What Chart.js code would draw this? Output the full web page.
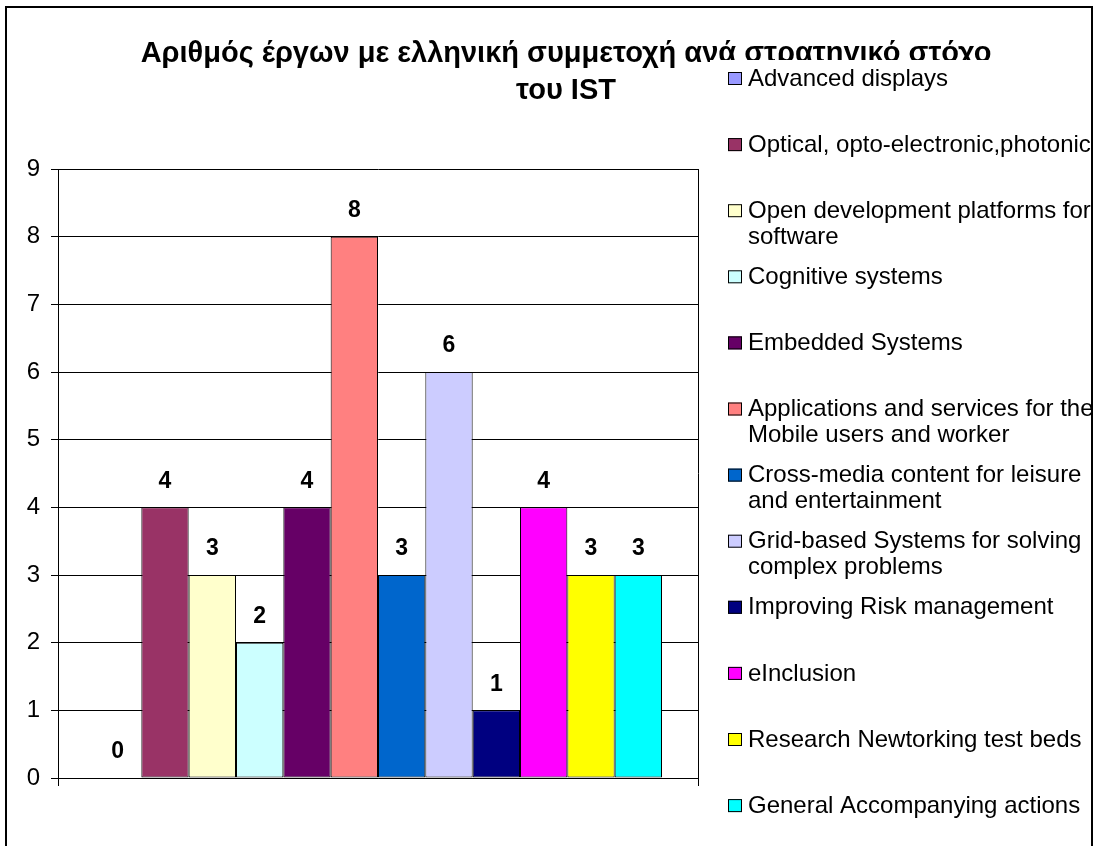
<!DOCTYPE html>
<html>
<head>
<meta charset="utf-8">
<script src="https://cdn.jsdelivr.net/npm/chart.js@4/dist/chart.umd.min.js"></script>
<style>
  html, body { margin: 0; padding: 0; background: #fff; }
  #wrap { width: 1095px; height: 846px; }
</style>
</head>
<body>
<div id="wrap"><canvas id="grafico" width="1095" height="846"></canvas></div>
<script>
// data
var titulo = ['Αριθμός έργων με ελληνική συμμετοχή ανά στρατηγικό στόχο', 'του IST'];
var categorias = [''];
var nomes = [
    'Advanced displays',
    'Optical, opto-electronic,photonic',
    'Open development platforms for\nsoftware',
    'Cognitive systems',
    'Embedded Systems',
    'Applications and services for the\nMobile users and worker',
    'Cross-media content for leisure\nand entertainment',
    'Grid-based Systems for solving\ncomplex problems',
    'Improving Risk management',
    'eInclusion',
    'Research Newtorking test beds',
    'General Accompanying actions'
];
var valores = [0, 4, 3, 2, 4, 8, 3, 6, 1, 4, 3, 3];
var cores = ['#9999FF', '#993366', '#FFFFCC', '#CCFFFF', '#660066', '#FF8080',
             '#0066CC', '#CCCCFF', '#000080', '#FF00FF', '#FFFF00', '#00FFFF'];
var ticksY = [0, 1, 2, 3, 4, 5, 6, 7, 8, 9];

var fonte = 'Arial, "Liberation Sans", sans-serif';

var series = [];
for (var i = 0; i < nomes.length; i++) {
    series.push({
        label: nomes[i],
        data: [valores[i]],
        backgroundColor: cores[i],
        borderColor: '#000',
        borderWidth: 1,
        borderSkipped: false
    });
}

var extras = {
    id: 'extras',
    beforeDraw: function (chart) {
        var ctx = chart.ctx;
        ctx.save();
        ctx.fillStyle = '#fff';
        ctx.fillRect(0, 0, chart.width, chart.height);
        ctx.restore();
    },
    afterDatasetsDraw: function (chart) {
        var ctx = chart.ctx;
        ctx.save();
        ctx.font = 'bold 23px ' + fonte;
        ctx.fillStyle = '#000';
        ctx.textAlign = 'center';
        ctx.textBaseline = 'middle';
        chart.data.datasets.forEach(function (ds, i) {
            var bar = chart.getDatasetMeta(i).data[0];
            ctx.fillText(String(ds.data[0]), bar.x, bar.y - 26);
        });
        ctx.restore();
    },
    afterDraw: function (chart) {
        var ctx = chart.ctx;
        ctx.save();
        // title
        ctx.font = 'bold 29px ' + fonte;
        ctx.fillStyle = '#000';
        ctx.textAlign = 'center';
        ctx.textBaseline = 'alphabetic';
        ctx.fillText(titulo[0], 566, 62);
        ctx.fillText(titulo[1], 566, 99);

        // legend box (covers the end of the title like the original)
        ctx.fillStyle = '#fff';
        ctx.fillRect(710, 60, 380, 790);
        ctx.font = '24px ' + fonte;
        ctx.textAlign = 'left';
        ctx.textBaseline = 'middle';
        chart.data.datasets.forEach(function (ds, i) {
            var y = 79 + i * 66.1;
            ctx.fillStyle = ds.backgroundColor;
            ctx.fillRect(728, y - 7, 14, 13);
            ctx.strokeStyle = '#000';
            ctx.lineWidth = 1;
            ctx.strokeRect(728.5, y - 6.5, 13, 12);
            ctx.fillStyle = '#000';
            var linhas = ds.label.split('\n');
            for (var k = 0; k < linhas.length; k++) {
                ctx.fillText(linhas[k], 748, y + k * 26);
            }
        });

        // outer frame
        ctx.strokeStyle = '#000';
        ctx.lineWidth = 2;
        ctx.strokeRect(6, 7, 1086, 900);
        ctx.restore();
    }
};

var grafico = document.getElementById('grafico').getContext('2d');
var chart = new Chart(grafico, {
    type: 'bar',
    data: {
        labels: categorias,
        datasets: series
    },
    options: {
        responsive: false,
        animation: false,
        layout: { padding: { top: 169, left: 0, right: 397, bottom: 60 } },
        categoryPercentage: 0.8875,
        barPercentage: 1,
        plugins: {
            legend: { display: false },
            title: { display: false },
            tooltip: { enabled: false }
        },
        scales: {
            x: {
                grid: { offset: true, color: '#000', lineWidth: 1, tickLength: 8 },
                border: { color: '#000' },
                ticks: { display: false },
                afterFit: function (s) { s.height = 8; }
            },
            y: {
                min: 0,
                max: 9,
                afterFit: function (s) { s.width = 58; },
                afterBuildTicks: function (s) {
                    s.ticks = ticksY.map(function (v) { return { value: v }; });
                },
                grid: { color: '#000', lineWidth: 1, tickLength: 7 },
                border: { color: '#000' },
                ticks: {
                    color: '#000',
                    padding: 11,
                    font: { family: fonte, size: 24 }
                }
            }
        }
    },
    plugins: [extras]
});
</script>
</body>
</html>
